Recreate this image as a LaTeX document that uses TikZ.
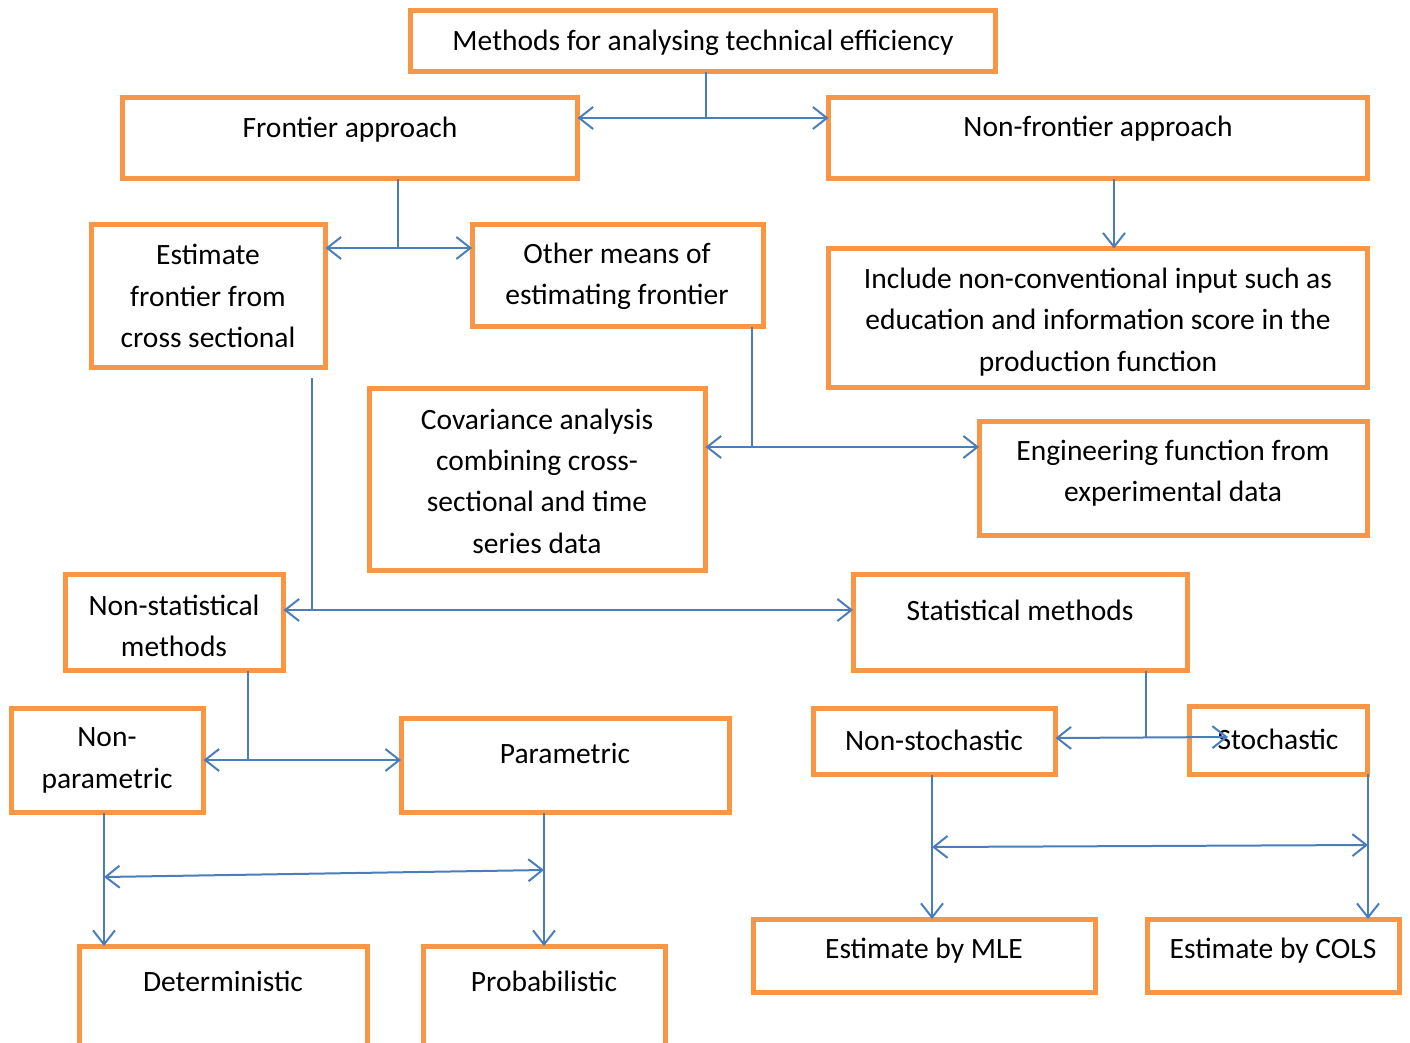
\documentclass[tikz,border=0pt]{standalone}
\usepackage{fontspec}
\setmainfont{Carlito}
\usetikzlibrary{arrows.meta}
\definecolor{boxorange}{HTML}{F79646}
\definecolor{linkblue}{HTML}{4A7EBB}
\newcommand\mybox[5]{\node[box, minimum width={#4-#2}, minimum height={#5-#3}] (#1) at ({(#2+#4)/2},{(#3+#5)/2}) {};}
\begin{document}
\begin{tikzpicture}[x=1pt,y=-1pt,
  box/.style={draw=boxorange, line width=5pt, inner sep=0pt, outer sep=0pt, rectangle},
  txt/.style={inner sep=0pt, align=center, font=\fontsize{29.5}{41.3}\selectfont},
  link/.style={draw=linkblue, line width=2pt},
  sgl/.style={link, -{Straight Barb[length=14pt,width=22pt]}},
  dbl/.style={link, {Straight Barb[length=14pt,width=22pt]}-{Straight Barb[length=14pt,width=22pt]}}]
\clip (0,0) rectangle (1410,1043);
% boxes
\mybox{m}{410.5}{11}{995.5}{72}
\mybox{fa}{122.5}{97.5}{577.5}{179}
\mybox{nf}{828.5}{97.5}{1367.5}{179}
\mybox{ef}{91}{224}{325.5}{367}
\mybox{om}{472}{224}{763.5}{326.5}
\mybox{inc}{828.5}{248.5}{1367.5}{387.5}
\mybox{cov}{369}{388}{705.5}{570.5}
\mybox{eng}{979}{421}{1367.5}{535.5}
\mybox{ns}{65}{574}{283.5}{670.5}
\mybox{sm}{853}{574}{1187.5}{670.5}
\mybox{np}{11}{708}{203.5}{812.5}
\mybox{pa}{401}{718}{729.5}{812.5}
\mybox{nst}{813}{708}{1055.5}{774.5}
\mybox{st}{1189.5}{706.5}{1367.5}{774}
\mybox{det}{79}{946}{367.5}{1060}
\mybox{prob}{423}{946}{665.5}{1060}
\mybox{mle}{753}{919}{1095.5}{992.5}
\mybox{cols}{1147}{919}{1399.5}{992.5}
% texts
\node[txt] (tm) at (703,43) {Methods for analysing technical efficiency};
\node[txt] (tfa) at (350,130) {Frontier approach};
\node[txt] (tnf) at (1098,129) {Non-frontier approach};
\node[txt] (tef) at (208,296) {Estimate\\frontier from\\cross sectional};
\node[txt] (tom) at (617,276) {Other means of\\estimating frontier};
\node[txt] (tinc) at (1098,322) {Include non-conventional input such as\\education and information score in the\\production function};
\node[txt] (tcov) at (537,481) {Covariance analysis\\combining cross-\\sectional and time\\series data};
\node[txt] (teng) at (1173,473.5) {Engineering function from\\experimental data};
\node[txt] (tns) at (174,626) {Non-statistical\\methods};
\node[txt] (tsm) at (1020,610) {Statistical methods};
\node[txt] (tnp) at (107,760.5) {Non-\\parametric};
\node[txt] (tpa) at (565,753) {Parametric};
\node[txt] (tnst) at (934,740) {Non-stochastic};
\node[txt] (tst) at (1278,739) {Stochastic};
\node[txt] (tdet) at (223,981) {Deterministic};
\node[txt] (tprob) at (544,981) {Probabilistic};
\node[txt] (tmle) at (924,951) {Estimate by MLE};
\node[txt] (tcols) at (1273,951) {Estimate by COLS};
% junctions
\coordinate (j1) at (706,118);
\coordinate (j2) at (398,248);
\coordinate (j4) at (752,447);
\coordinate (j5) at (312,610);
\coordinate (j6) at (248,760);
\coordinate (j7) at (104,877);
\coordinate (j8) at (544,870);
\coordinate (j9) at (1146,738);
\coordinate (j10) at (1228,737);
\coordinate (j11) at (932,847);
\coordinate (j12) at (1368,845);
% connectors
\draw[link] (m.south -| j1) -- (j1);
\draw[dbl] (fa.east |- j1) -- (nf.west |- j1);
\draw[link] (fa.south -| j2) -- (j2);
\draw[dbl] (ef.east |- j2) -- (om.west |- j2);
\draw[sgl] ([xshift=16pt]nf.south) -- ([xshift=16pt]inc.north);
\draw[link] (om.south -| j4) -- (j4);
\draw[dbl] (cov.east |- j4) -- (eng.west |- j4);
\draw[link] ([yshift=-11pt]ef.south -| j5) -- (j5);
\draw[dbl] (ns.east |- j5) -- (sm.west |- j5);
\draw[link] (ns.south -| j6) -- (j6);
\draw[dbl] (np.east |- j6) -- (pa.west |- j6);
\draw[sgl] (np.south -| j7) -- (det.north -| j7);
\draw[sgl] (pa.south -| j8) -- (prob.north -| j8);
\draw[dbl] (j7) -- (j8);
\draw[link] (sm.south -| j9) -- (j9);
\draw[dbl] (nst.east |- j9) -- (j10);
\draw[sgl] (nst.south -| j11) -- (mle.north -| j11);
\draw[sgl] (st.south -| j12) -- (cols.north -| j12);
\draw[dbl] (j11) -- (j12);
\end{tikzpicture}
\end{document}
